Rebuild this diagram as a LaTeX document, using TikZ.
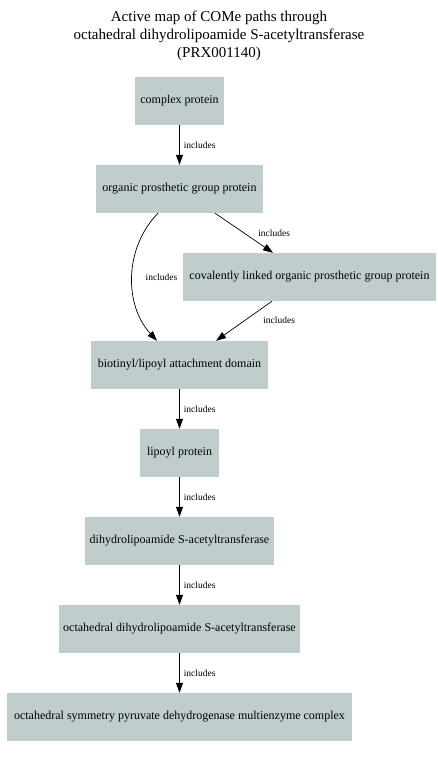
\documentclass[tikz,border=0pt]{standalone}
\usepackage{fontspec}
\setmainfont{Liberation Serif}
\usetikzlibrary{arrows.meta}
\definecolor{boxfill}{RGB}{193,205,205}
\begin{document}
\begin{tikzpicture}[x=1pt,y=-1pt,
  box/.style={fill=boxfill,draw=none,inner sep=0pt,minimum height=48pt,font=\fontsize{12}{14}\selectfont},
  edge/.style={line width=0.7pt,-{Triangle[length=10pt,width=7pt]}},
  lab/.style={font=\fontsize{9.5}{11}\selectfont,inner sep=0pt}]
\useasboundingbox (0,0) rectangle (438,758);
\node[font=\fontsize{15}{18}\selectfont,align=center] (title) at (219,36) {Active map of COMe paths through\\octahedral dihydrolipoamide S-acetyltransferase\\(PRX001140)};
\node[box,minimum width=89pt] (cp) at (179.5,101) {complex protein};
\node[box,minimum width=167pt] (org) at (179.5,189) {organic prosthetic group protein};
\node[box,minimum width=253pt] (cov) at (309.5,277) {covalently linked organic prosthetic group protein};
\node[box,minimum width=177pt] (bio) at (179.5,365) {biotinyl/lipoyl attachment domain};
\node[box,minimum width=79pt] (lip) at (179.5,453) {lipoyl protein};
\node[box,minimum width=189pt] (dih) at (179.5,541) {dihydrolipoamide S-acetyltransferase};
\node[box,minimum width=241pt] (oct) at (179.5,629) {octahedral dihydrolipoamide S-acetyltransferase};
\node[box,minimum width=345pt] (sym) at (179.5,717) {octahedral symmetry pyruvate dehydrogenase multienzyme complex};

\draw[edge] (cp.south) -- (org.north) node[lab,midway,anchor=west,xshift=4pt] (l1) {includes};
\draw[edge] ([xshift=35.5pt]org.south) -- ([xshift=-36.5pt]cov.north) node[lab,pos=0.5,anchor=west,xshift=14pt,yshift=0pt] (l2) {includes};
\draw[edge] ([xshift=-21.5pt]org.south) .. controls (124,248) and (124,305) .. ([xshift=-22.5pt]bio.north);
\node[lab] (l3) at (161.5,277) {includes};
\draw[edge] ([xshift=-37.5pt]cov.south) -- ([xshift=36.5pt]bio.north) node[lab,pos=0.5,anchor=west,xshift=19pt,yshift=1pt] (l4) {includes};
\draw[edge] (bio.south) -- (lip.north) node[lab,midway,anchor=west,xshift=4pt] (l5) {includes};
\draw[edge] (lip.south) -- (dih.north) node[lab,midway,anchor=west,xshift=4pt] (l6) {includes};
\draw[edge] (dih.south) -- (oct.north) node[lab,midway,anchor=west,xshift=4pt] (l7) {includes};
\draw[edge] (oct.south) -- (sym.north) node[lab,midway,anchor=west,xshift=4pt] (l8) {includes};
\end{tikzpicture}
\end{document}
